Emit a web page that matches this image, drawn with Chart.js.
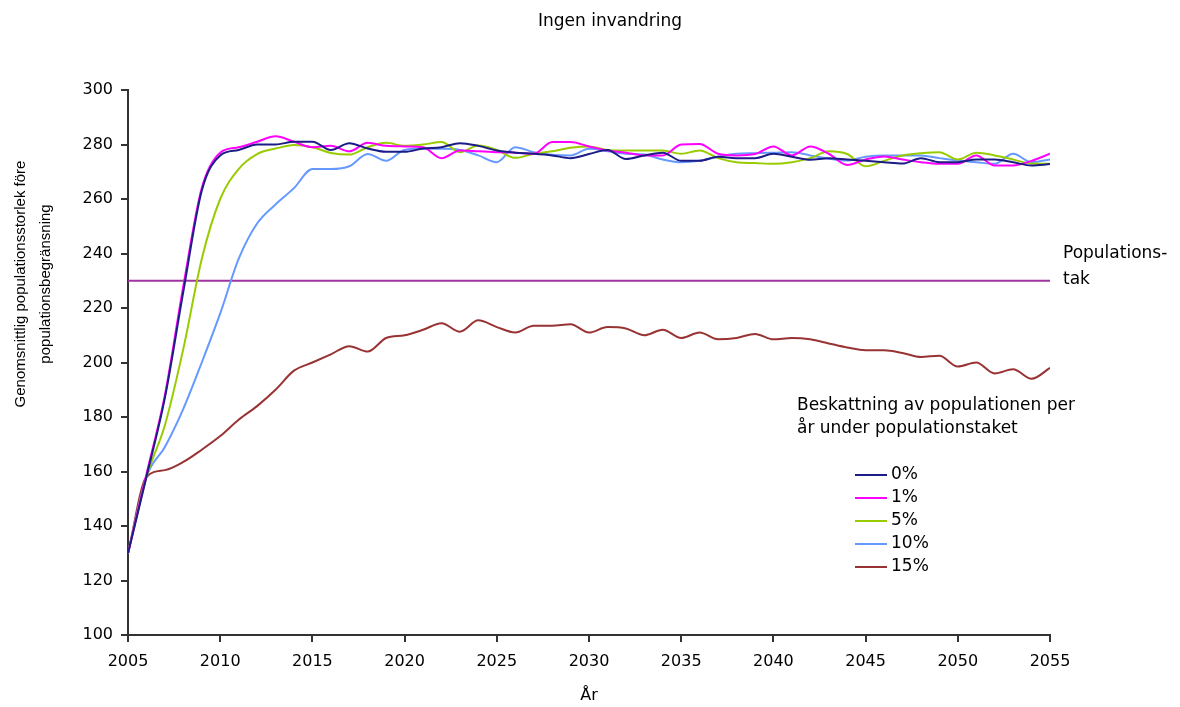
<!DOCTYPE html>
<html>
<head>
<meta charset="utf-8">
<script src="https://cdn.jsdelivr.net/npm/chart.js@4.4.1/dist/chart.umd.min.js"></script>
<style>
html, body { margin: 0; padding: 0; background: #fff; }
</style>
</head>
<body>
<canvas id="grafikon" width="1180" height="707"></canvas>
<script>
// ar (x-axeln)
var years = [2005, 2006, 2007, 2008, 2009, 2010, 2011, 2012, 2013, 2014,
             2015, 2016, 2017, 2018, 2019, 2020, 2021, 2022, 2023, 2024,
             2025, 2026, 2027, 2028, 2029, 2030, 2031, 2032, 2033, 2034,
             2035, 2036, 2037, 2038, 2039, 2040, 2041, 2042, 2043, 2044,
             2045, 2046, 2047, 2048, 2049, 2050, 2051, 2052, 2053, 2054, 2055];

// beskattning 0%
var pop0 = [130, 158, 187, 226, 263, 276, 278, 280, 280, 281,
            281, 278, 280.5, 278.5, 277.3, 277.3, 278.5, 279, 280.5, 279.5,
            277.8, 277, 276.6, 276, 275, 276.5, 278, 274.7, 276, 277,
            274, 274, 275.5, 275, 275, 276.6, 275.5, 274.4, 275, 274.5,
            274, 273.5, 273, 275, 273.5, 273.5, 274.5, 274.5, 273.5, 272.3, 272.8];

// beskattning 1%
var pop1 = [130, 159, 188, 228, 264, 277, 279, 281, 283, 281,
            279, 279.5, 277.5, 280.6, 279.5, 279.3, 279, 275, 277.8, 277.5,
            277.2, 277, 276.6, 280.9, 280.9, 279.3, 277.8, 277, 276, 276,
            280, 280.2, 276.6, 276, 276.5, 279.3, 276, 279.3, 276.6, 272.5,
            274.5, 275.6, 274.5, 273.5, 272.9, 272.9, 276, 272.3, 272.3, 274, 276.6];

// beskattning 5%
var pop5 = [130, 158, 177, 205, 238, 260, 271, 276.5, 278.5, 279.8,
            279, 276.9, 276.3, 279, 280.6, 279.5, 280, 280.9, 277.2, 279.6,
            278, 275.1, 276.6, 277.5, 278.8, 279.3, 278, 277.8, 277.8, 277.8,
            276.6, 277.8, 275, 273.5, 273.2, 272.9, 273.5, 275, 277.5, 276.5,
            272, 274, 276, 276.8, 277.2, 274.5, 277, 276, 274.5, 273, 272.9];

// beskattning 10%
var pop10 = [130, 158, 169, 183, 200, 218, 238, 251, 258, 264,
             271, 271, 272, 276.5, 274, 278, 278.4, 278.4, 278, 276,
             273.5, 279, 277.2, 276.2, 276, 278.4, 277.5, 276.6, 276.3, 274.5,
             273.5, 274, 275.5, 276.6, 276.8, 277, 277.2, 276, 274.8, 274.1,
             275.5, 276, 276, 276, 275, 274.1, 273.5, 272.9, 276.6, 273.5, 274.5];

// beskattning 15%
var pop15 = [130, 158, 160.5, 163.5, 168, 173, 179, 184, 190, 197,
             200, 203, 206, 204, 209, 210, 212, 214.4, 211.3, 215.5,
             213, 211, 213.5, 213.5, 214, 211, 213, 212.5, 210, 212,
             209, 211, 208.5, 209, 210.5, 208.5, 209, 208.5, 207, 205.5,
             204.5, 204.5, 203.5, 202, 202.5, 198.5, 200, 196, 197.5, 194, 198];

var populationstak = 230;

var serieNamn = ["0%", "1%", "5%", "10%", "15%"];
var serieFarger = ["#1c1c86", "#ff00ff", "#99cc00", "#6699ff", "#993333"];
var takFarg = "#a033a0";

var titel = "Ingen invandring";
var xTitel = "År";
var yTitel = ["Genomsnittlig populationsstorlek före", "populationsbegränsning"];
var takText = ["Populations-", "tak"];
var legendRubrik = ["Beskattning av populationen per", "år under populationstaket"];

function punkter(varden) {
    var ut = [];
    for (let i = 0; i < years.length; i++) {
        ut.push({x: years[i], y: varden[i]});
    }
    return ut;
}

var serier = [pop0, pop1, pop5, pop10, pop15];
var datasets = [];
for (let i = 0; i < serier.length; i++) {
    datasets.push({
        label: serieNamn[i],
        data: punkter(serier[i]),
        borderColor: serieFarger[i],
        backgroundColor: serieFarger[i],
        borderWidth: 2,
        pointRadius: 0,
        cubicInterpolationMode: "monotone",
        fill: false
    });
}
datasets.push({
    label: "Populationstak",
    data: [{x: years[0], y: populationstak}, {x: years[years.length - 1], y: populationstak}],
    borderColor: takFarg,
    backgroundColor: takFarg,
    borderWidth: 2,
    pointRadius: 0,
    fill: false
});

var textPlugin = {
    id: "texter",
    afterDraw: function (chart) {
        var ctx = chart.ctx;
        ctx.save();
        ctx.fillStyle = "#000";
        ctx.textBaseline = "middle";

        // diagramtitel
        ctx.font = "17px 'DejaVu Sans'";
        ctx.textAlign = "center";
        ctx.fillText(titel, 610, 22);

        // y-axelns titel, tva rader
        ctx.font = "15px 'Liberation Sans'";
        ctx.save();
        ctx.translate(21, 284);
        ctx.rotate(-Math.PI / 2);
        ctx.fillText(yTitel[0], 0, 0);
        ctx.fillText(yTitel[1], 0, 25);
        ctx.restore();

        ctx.font = "17px 'DejaVu Sans'";
        ctx.textAlign = "left";
        ctx.fillText(takText[0], 1063, 254);
        ctx.fillText(takText[1], 1063, 280);

        ctx.fillText(legendRubrik[0], 797, 406);
        ctx.fillText(legendRubrik[1], 797, 429);

        for (let i = 0; i < serieNamn.length; i++) {
            var y = 475 + i * 23;
            ctx.strokeStyle = serieFarger[i];
            ctx.lineWidth = 2;
            ctx.beginPath();
            ctx.moveTo(855, y);
            ctx.lineTo(887, y);
            ctx.stroke();
            ctx.fillText(serieNamn[i], 891, y);
        }
        ctx.restore();
    }
};

new Chart("grafikon", {
    type: "line",
    data: {datasets: datasets},
    options: {
        responsive: false,
        animation: false,
        layout: {padding: {left: 0, right: 130, top: 90, bottom: 0}},
        plugins: {
            legend: {display: false},
            tooltip: {enabled: false},
            title: {display: false}
        },
        scales: {
            x: {
                type: "linear",
                min: 2005,
                max: 2055,
                afterFit: function (scale) { scale.height = 72; },
                ticks: {
                    stepSize: 5,
                    color: "#000",
                    font: {family: "DejaVu Sans", size: 16},
                    padding: 10,
                    maxRotation: 0,
                    callback: function (v) { return String(v); }
                },
                grid: {drawOnChartArea: false, drawTicks: true, tickLength: 7, color: "#333", lineWidth: 2},
                border: {color: "#333", width: 2},
                title: {
                    display: true,
                    text: xTitel,
                    color: "#000",
                    font: {family: "DejaVu Sans", size: 16},
                    padding: {top: 0, bottom: 2}
                }
            },
            y: {
                min: 100,
                max: 300,
                afterFit: function (scale) { scale.width = 128; },
                ticks: {
                    stepSize: 20,
                    color: "#000",
                    font: {family: "DejaVu Sans", size: 16},
                    padding: 8
                },
                grid: {drawOnChartArea: false, drawTicks: true, tickLength: 7, color: "#333", lineWidth: 2},
                border: {color: "#333", width: 2}
            }
        }
    },
    plugins: [textPlugin]
});
</script>
</body>
</html>
